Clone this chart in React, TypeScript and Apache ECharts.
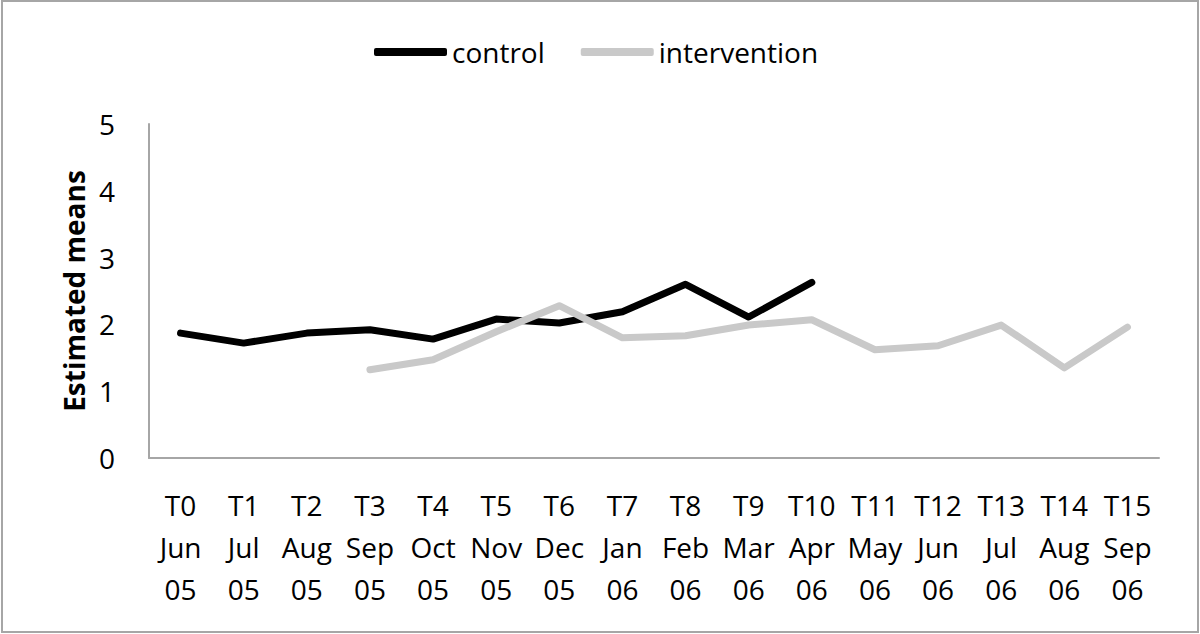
import React, { useEffect, useRef } from "react";
import * as echarts from "echarts";

const timepoints = ["T0", "T1", "T2", "T3", "T4", "T5", "T6", "T7", "T8", "T9", "T10", "T11", "T12", "T13", "T14", "T15"];
const months = ["Jun", "Jul", "Aug", "Sep", "Oct", "Nov", "Dec", "Jan", "Feb", "Mar", "Apr", "May", "Jun", "Jul", "Aug", "Sep"];
const years = ["05", "05", "05", "05", "05", "05", "05", "06", "06", "06", "06", "06", "06", "06", "06", "06"];

const controlValues = [1.87, 1.72, 1.87, 1.92, 1.78, 2.08, 2.02, 2.19, 2.6, 2.11, 2.63, null, null, null, null, null];
const interventionValues = [null, null, null, 1.32, 1.47, 1.89, 2.28, 1.8, 1.83, 1.99, 2.07, 1.62, 1.68, 1.99, 1.35, 1.96];

const FONT = "'Open Sans', 'Noto Sans', sans-serif";

export default function App() {
  const ref = useRef<HTMLDivElement>(null);
  useEffect(() => {
    document.body.style.margin = "0";
    if (!ref.current) return;
    const chart = echarts.init(ref.current, undefined, { renderer: "svg" });
    const categories = timepoints.map((t, i) => `${t}\n${months[i]}\n${years[i]}`);
    chart.setOption({
      animation: false,
      backgroundColor: "#ffffff",
      textStyle: { fontFamily: FONT },
      graphic: [
        {
          type: "rect",
          shape: { x: 2, y: 1, width: 1196, height: 631 },
          style: { fill: "none", stroke: "#a6a6a6", lineWidth: 2 },
          silent: true,
        },
      ],
      legend: {
        left: 369,
        top: 33,
        itemWidth: 73,
        itemHeight: 8,
        itemGap: 36,
        icon: "roundRect",
        textStyle: { fontFamily: FONT, fontSize: 28, color: "#000" },
        data: [
          { name: "control", itemStyle: { color: "#000000" } },
          { name: "intervention", itemStyle: { color: "#c9c9c9" } },
        ],
      },
      grid: { left: 149, right: 41, top: 124, bottom: 176 },
      xAxis: {
        type: "category",
        data: categories,
        boundaryGap: true,
        axisLine: { show: true, lineStyle: { color: "#a6a6a6", width: 2 } },
        axisTick: { show: false },
        axisLabel: {
          interval: 0,
          color: "#000",
          fontFamily: FONT,
          fontSize: 28,
          lineHeight: 42,
          margin: 26,
        },
      },
      yAxis: {
        type: "value",
        min: 0,
        max: 5,
        interval: 1,
        name: "Estimated means",
        nameLocation: "middle",
        nameGap: 60,
        nameTextStyle: { fontFamily: FONT, fontSize: 28, fontWeight: "bold", color: "#000" },
        axisLine: { show: true, lineStyle: { color: "#a6a6a6", width: 2 } },
        axisTick: { show: false },
        splitLine: { show: false },
        axisLabel: { color: "#000", fontFamily: FONT, fontSize: 28, margin: 34 },
      },
      series: [
        {
          name: "control",
          type: "line",
          data: controlValues,
          symbol: "none",
          connectNulls: false,
          lineStyle: { color: "#000000", width: 7, cap: "round", join: "round" },
          itemStyle: { color: "#000000" },
        },
        {
          name: "intervention",
          type: "line",
          data: interventionValues,
          symbol: "none",
          connectNulls: false,
          lineStyle: { color: "#c9c9c9", width: 7, cap: "round", join: "round" },
          itemStyle: { color: "#c9c9c9" },
        },
      ],
    });
    return () => chart.dispose();
  }, []);
  return (
    <div
      ref={ref}
      style={{ position: "fixed", left: 0, top: 0, width: 1200, height: 634 }}
    />
  );
}
